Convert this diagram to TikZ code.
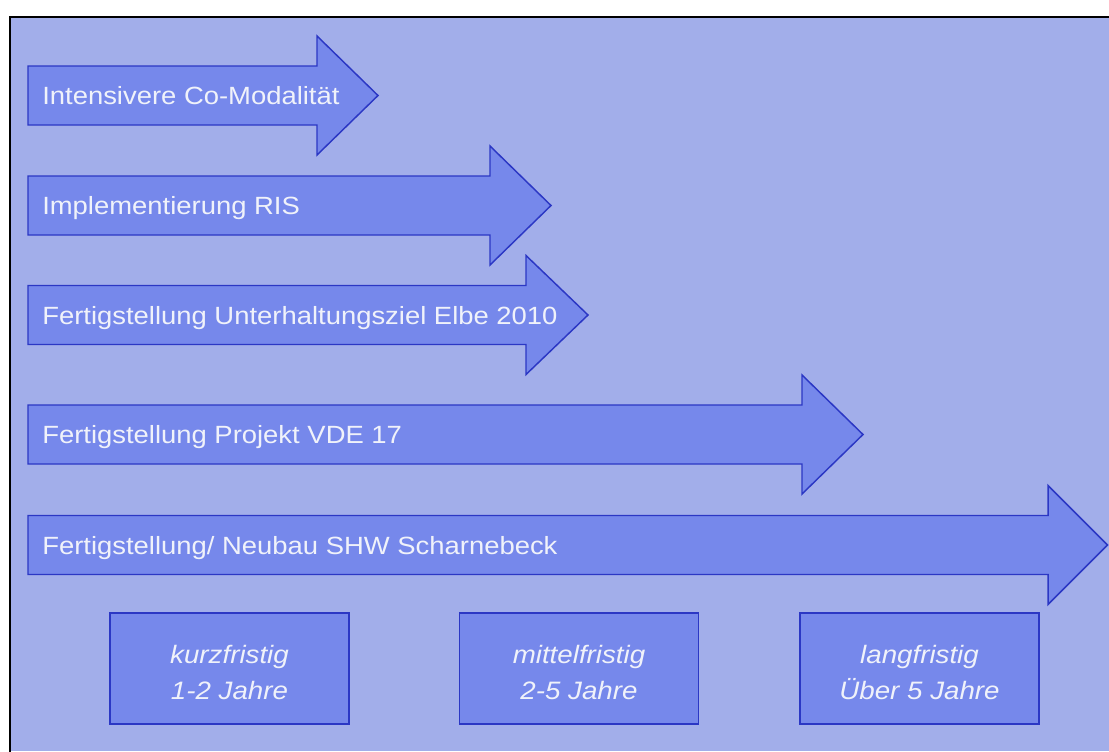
\documentclass[tikz,border=0pt]{standalone}
\usepackage{fontspec}
\setmainfont{Liberation Sans}[FakeStretch=1.1]
\usepackage{tikz}
\usetikzlibrary{positioning}

\definecolor{bgblue}{RGB}{162,174,234}
\definecolor{arrowfill}{RGB}{118,136,235}
\definecolor{arrowline}{RGB}{43,55,196}
\definecolor{textwhite}{RGB}{240,242,250}

\tikzset{
  arrowshape/.style={draw=arrowline, fill=arrowfill, line width=1.1pt, line join=miter},
  arrowtext/.style={anchor=base west, inner sep=0pt, text=textwhite, font=\fontsize{18.7}{22}\selectfont},
  periodbox/.style={draw=arrowline, fill=arrowfill, line width=1.1pt, minimum width=179.25pt, minimum height=83.25pt,
    align=center, text=textwhite, text height=46pt, text depth=0pt, font=\fontsize{18.9}{27}\selectfont\itshape}
}

\begin{document}
\begin{tikzpicture}[x=0.75pt,y=0.75pt,yscale=-1,xscale=1]
\useasboundingbox (0,0) rectangle (1109,751);

%Background
\fill [bgblue] (10,17) rectangle (1109,751);
\draw [line width=1.5pt, line cap=rect] (10,751) -- (10,17) -- (1109,17);

%Shape: Right Arrow [Co-Modalitaet]
\draw [arrowshape] (28,66) -- (317,66) -- (317,36) -- (378,95.5) -- (317,155) -- (317,125) -- (28,125) -- cycle ;
%Shape: Right Arrow [RIS]
\draw [arrowshape] (28,176) -- (490,176) -- (490,146) -- (551,205.5) -- (490,265) -- (490,235) -- (28,235) -- cycle ;
%Shape: Right Arrow [Elbe]
\draw [arrowshape] (28,285.5) -- (526,285.5) -- (526,255.5) -- (588,315) -- (526,374.5) -- (526,344.5) -- (28,344.5) -- cycle ;
%Shape: Right Arrow [VDE 17]
\draw [arrowshape] (28,405) -- (802,405) -- (802,375) -- (863,434.5) -- (802,494) -- (802,464) -- (28,464) -- cycle ;
%Shape: Right Arrow [SHW]
\draw [arrowshape] (28,515.5) -- (1048,515.5) -- (1048,485.5) -- (1107.5,545) -- (1048,604.5) -- (1048,574.5) -- (28,574.5) -- cycle ;

% Text Node
\node (comod) [arrowtext] at (42,104.5) {Intensivere Co-Modalität};
% Text Node
\node (ris) [arrowtext] at (42,214.5) {Implementierung RIS};
% Text Node
\node (elbe) [arrowtext] at (42,324) {Fertigstellung Unterhaltungsziel Elbe 2010};
% Text Node
\node (vde) [arrowtext] at (42,443.5) {Fertigstellung Projekt VDE 17};
% Text Node
\node (shw) [arrowtext] at (42,554) {Fertigstellung/ Neubau SHW Scharnebeck};

%Shape: Rectangle
\node (kurz) [periodbox] at (229.5,668.5) {kurzfristig\\1-2 Jahre};
%Shape: Rectangle
\node (mittel) [periodbox] at (579,668.5) {mittelfristig\\2-5 Jahre};
%Shape: Rectangle
\node (lang) [periodbox] at (919.5,668.5) {langfristig\\Über 5 Jahre};

\end{tikzpicture}
\end{document}
